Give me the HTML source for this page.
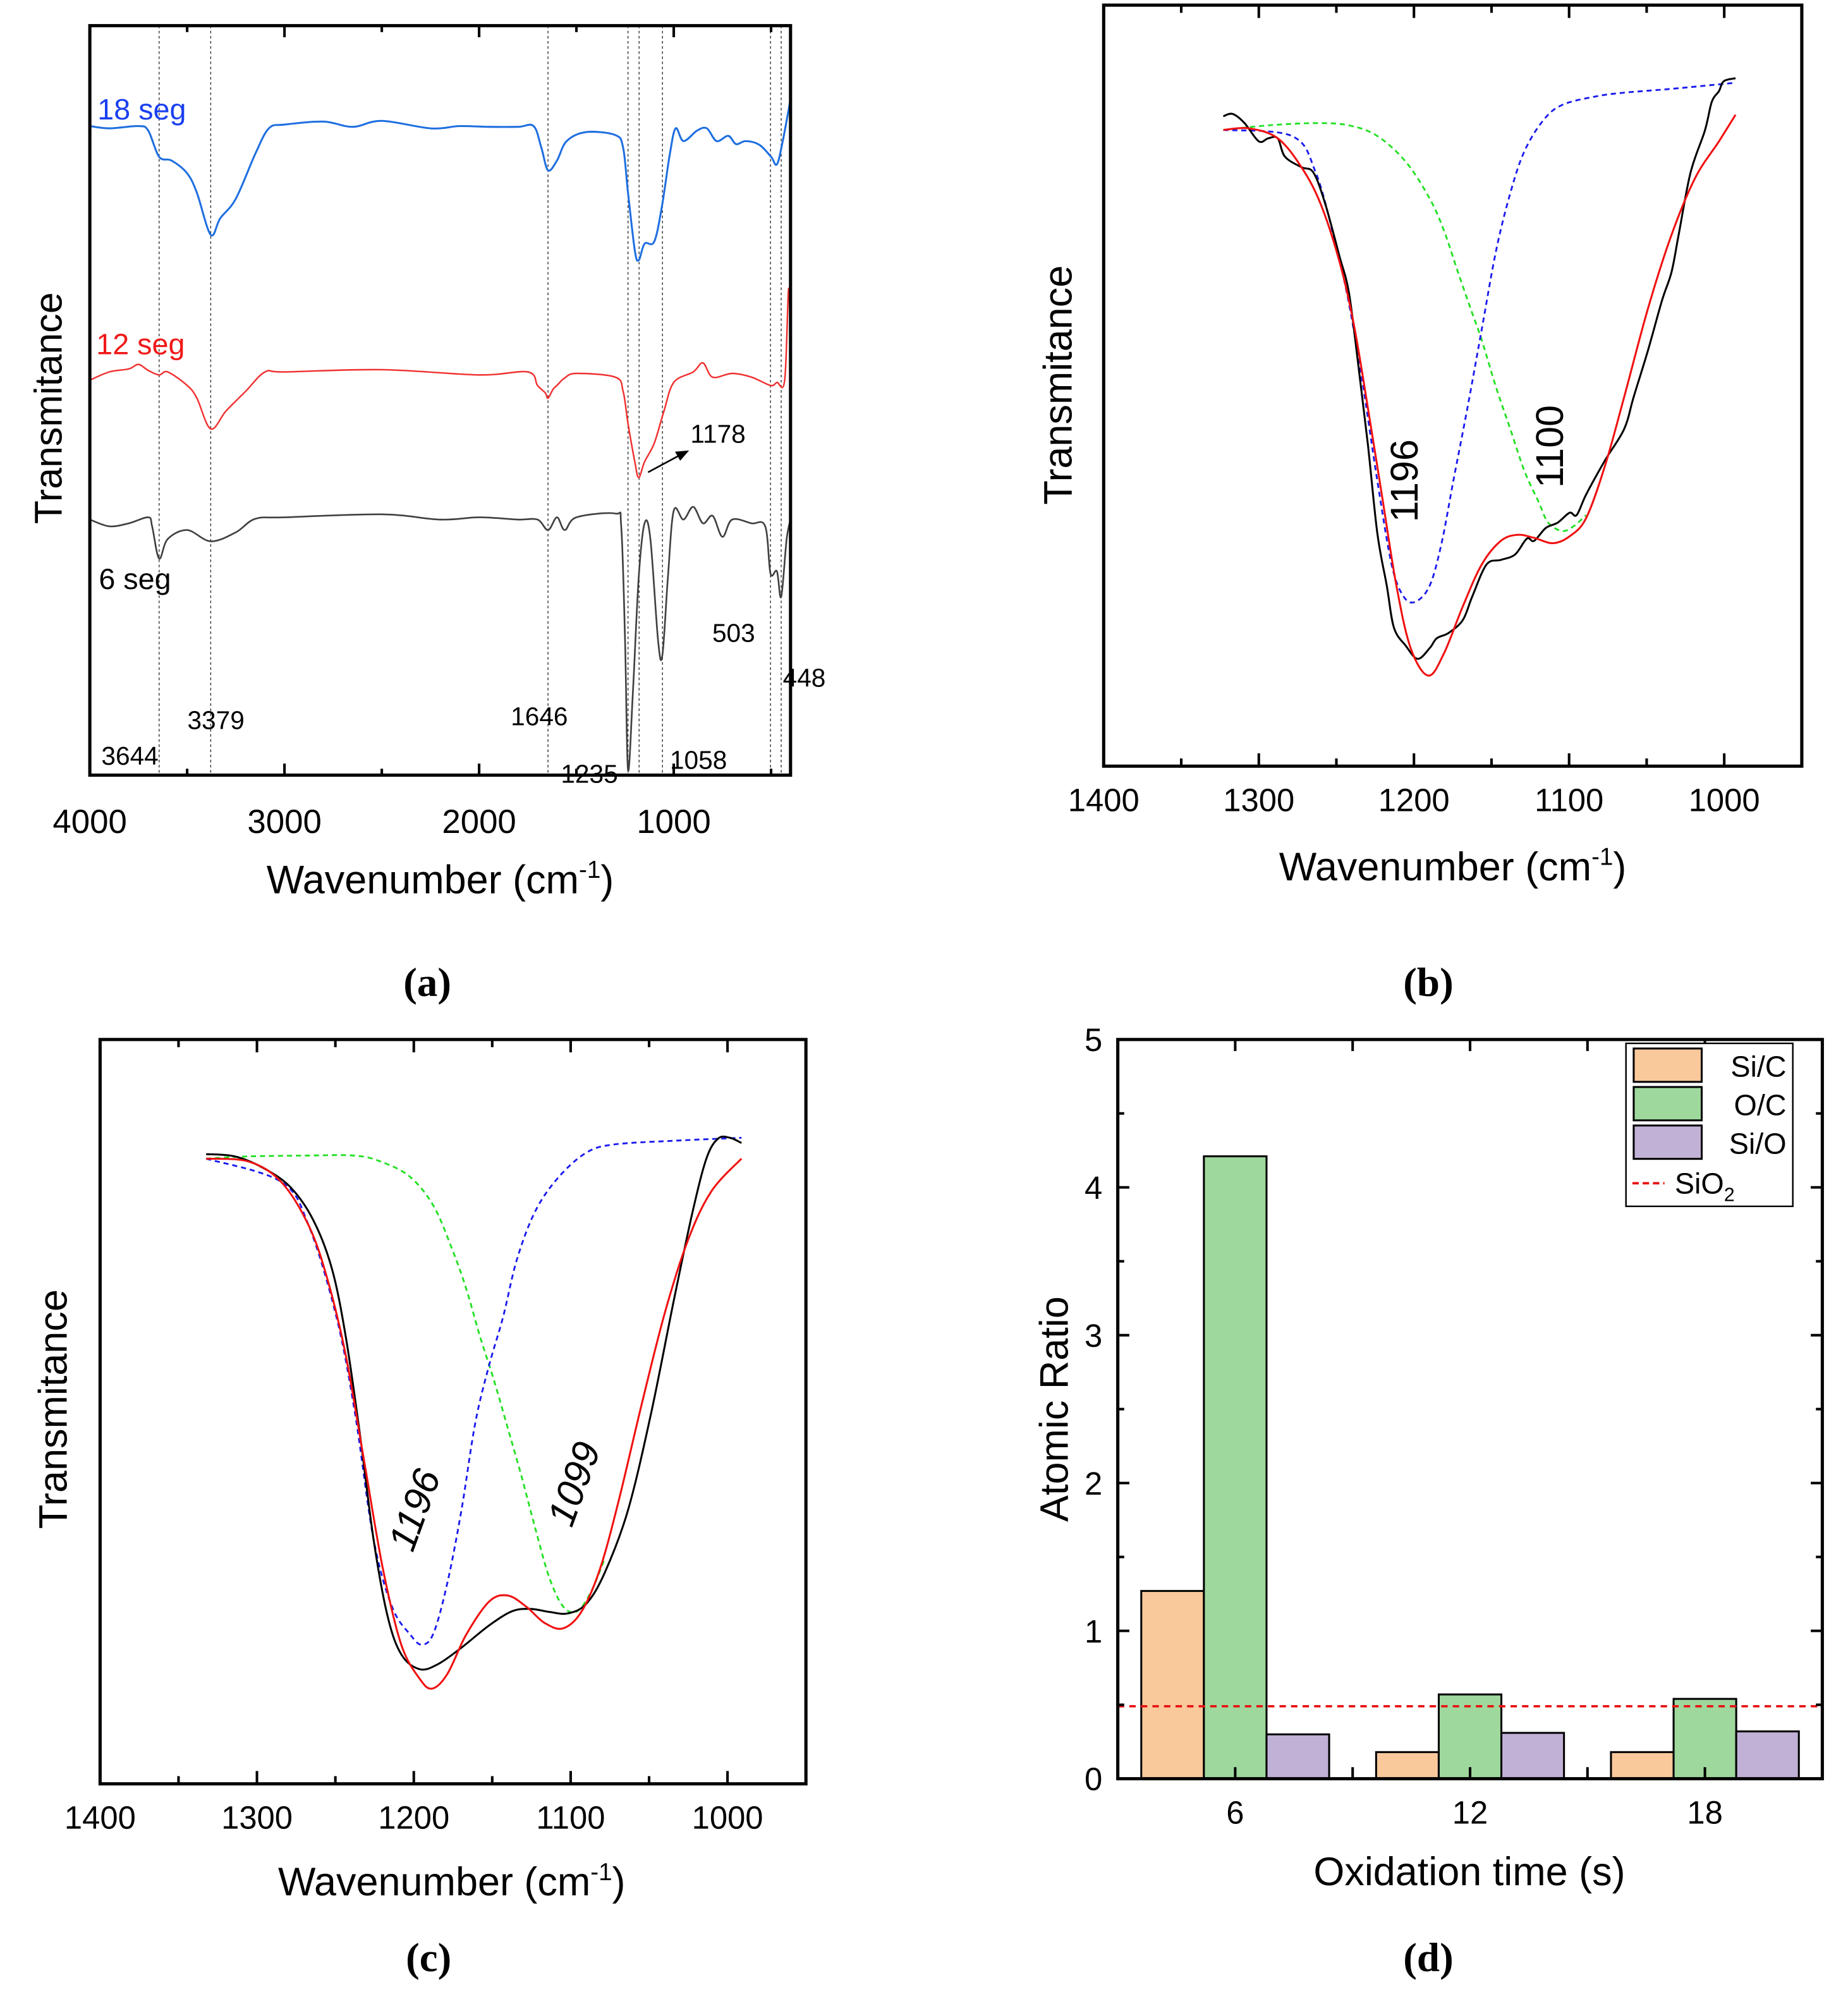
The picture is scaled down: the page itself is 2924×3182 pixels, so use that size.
<!DOCTYPE html>
<html><head><meta charset="utf-8"><title>FTIR and atomic ratio figure</title>
<style>
html,body{margin:0;padding:0;background:#fff;}
svg{display:block;font-family:"Liberation Sans",Arial,sans-serif;}
.cap{font-family:"Liberation Serif",serif;font-weight:bold;}
</style></head>
<body>
<svg id="fig" xmlns="http://www.w3.org/2000/svg" width="2924" height="3182" viewBox="0 0 1440 1567" preserveAspectRatio="none">
<rect x="0" y="0" width="1440" height="1567" fill="#fff"/>
<g id="pa"></g>
<g id="pb"></g>
<g id="pc"></g>
<g id="pd"></g>
</svg>
<script>
// ---------- Panel (a) data: wavenumber / relative transmittance (0-100) ----------
const aBlueWn = [4000,3900,3750,3700,3644,3580,3500,3450,3379,3330,3250,3150,3080,3000,2800,2650,2500,2250,2100,1950,1800,1720,1680,1646,1600,1550,1450,1300,1260,1235,1200,1180,1150,1100,1060,1020,990,950,880,830,780,720,680,630,560,500,470,440,400];
const aBlueV  = [86.6,86.3,86.6,86,82.5,82,80.3,77.7,72.1,74.3,76.9,82.9,86.3,86.8,87.2,86.5,87.3,86.3,86.6,86.5,86.5,86.6,83.7,80.7,82,84.6,85.8,85.4,83.7,77.7,70,68.7,70.9,71.2,76,82.9,86.3,84.6,86,86.3,84.6,85.3,84.2,84.6,84.1,82.5,81.5,84.6,90.2];
const aRedWn = [4000,3900,3800,3750,3700,3644,3600,3500,3450,3379,3300,3200,3100,3000,2500,2000,1750,1700,1660,1646,1620,1600,1560,1500,1300,1260,1235,1200,1180,1150,1100,1050,1000,900,850,800,700,600,503,470,430,410,400];
const aRedV  = [52.7,53.8,54.2,54.8,54,53.4,53.8,52,50.3,46.2,48.6,51.2,53.8,53.8,54.1,53.4,53.8,52,51,50.3,51.5,52,53,53.6,53.1,51.2,46.9,41.8,39.7,41.8,44.3,48.6,52.4,53.8,55,53.1,53.6,53.1,52,52.4,52.7,64.9,57.2];
const aBlackWn = [4000,3900,3800,3700,3680,3644,3600,3500,3379,3250,3150,3000,2500,2200,2000,1800,1700,1646,1600,1560,1500,1300,1270,1250,1235,1210,1180,1150,1120,1080,1058,1030,1000,950,900,850,800,750,700,600,530,503,470,448,420,400];
const aBlackV  = [34.1,33.2,33.6,34.4,33.2,28.9,31.5,32.7,31.2,32.4,34.2,34.4,34.8,34.1,34.4,34.1,34.1,32.7,34.4,32.7,34.4,34.9,33.2,17.8,0.7,11,26.4,33.6,31.5,17.8,16.1,26.4,35.3,34.1,35.8,33.6,34.6,31.8,34.1,33.6,33.2,26.9,27.2,23.8,31.5,34.1];
const aGuides = [3644,3379,1646,1235,1178,1058,503,448];
const aTicks = [4000,3000,2000,1000];

// ---------- Panel (b) data ----------
const bBlackWn = [1322.9,1316.8,1309.2,1300,1293.9,1287.8,1283.2,1272.5,1264.8,1257.2,1248,1241.9,1235.8,1229.7,1223.6,1217.5,1212.9,1205.2,1197.6,1189.9,1185.3,1177.7,1168.5,1162.4,1153.2,1144,1134.9,1127.2,1122.6,1115,1107.3,1099.7,1095.1,1089,1076.8,1064.5,1058.4,1049.2,1040.1,1034,1029.4,1021.7,1012.5,1008,1003.4,1000.3,992.7];
const bBlackV  = [85.4,85.7,84.5,82.1,82.5,82.5,80.1,78.7,78,73.9,67,62.2,52.6,42.3,30.6,23.7,18.2,15.8,14.1,15.5,16.8,17.5,19.2,22.3,26.5,27.1,27.8,29.9,29.6,31.3,32,33.3,33,35.7,40.2,44.3,48.5,54.6,61.2,64.9,69.8,78,83.5,87.3,88.7,90,90.4];
const bRedWn = [1322.9,1306.1,1287.8,1272.5,1260.2,1248,1238.8,1229.7,1220.5,1211.3,1202.1,1190.8,1180.7,1168.5,1156.3,1144,1133.3,1122.6,1110.4,1099.7,1089,1076.8,1064.5,1049.2,1034,1018.7,1003.4,992.7];
const bRedV  = [83.6,83.8,82.5,78.7,73.9,66.3,58.1,47.1,35.4,23.7,15.5,11.9,14.8,21,26.5,29.6,30.4,30,29.3,30.2,32.6,39.5,48.5,60.1,69.8,77.3,82.1,85.6];
const bBlueWn = [1322.9,1278.6,1263.3,1251.1,1241.9,1232.7,1223.6,1214.4,1206.7,1199.1,1189.9,1182.3,1174.6,1165.5,1156.3,1147.1,1137.9,1128.8,1116.5,1104.3,1082.9,1064.5,1034,992.7];
const bBlueV  = [83.6,82.8,78,69.1,60.8,49.8,37.5,26.5,22.3,21.6,23.7,29.2,37.5,47.1,57.4,67.7,75.3,80.8,84.9,86.9,88,88.5,89,89.8];
const bGreenWn = [1322.9,1293.9,1263.3,1241.9,1223.6,1205.2,1189.9,1180.7,1171.6,1162.4,1156.3,1147.1,1137.9,1128.8,1119.6,1113.5,1104.3,1096.6,1089];
const bGreenV  = [83.6,84.2,84.5,84.2,82.8,79.4,74.6,70.4,64.9,59.5,56,49.8,44.3,38.8,34.7,32,30.9,31.6,33];
const bPeakLabels = ["1196","1100"];
const bPeakWn = [1197.6,1104];
const bPeakV = [37.5,42];

// ---------- Panel (c) data ----------
const cBlackWn = [1332.4,1314.2,1296.5,1278.8,1264,1252.2,1243.4,1234.5,1225.7,1216.8,1208,1196.2,1184.4,1169.6,1151.9,1137.2,1125.4,1113.6,1101.8,1090,1078.2,1063.4,1048.7,1033.9,1022.1,1013.3,1005.9,998.5,991.1];
const cBlackV  = [84.6,84.3,82.8,80.2,75.7,69.2,60.1,47.2,32.9,22.6,17.4,15.4,16.1,18.3,21.3,23.2,23.5,23.1,22.9,24.2,28.4,36.8,49.8,65.3,77,84.1,86.7,86.8,86.1];
const cRedWn = [1332.4,1305.3,1284.7,1267,1255.2,1243.4,1231.6,1219.8,1208,1196.2,1188.2,1178.5,1166.7,1151.9,1140.1,1128.3,1116.5,1104.7,1092.9,1081.1,1069.3,1054.6,1039.8,1025.1,1010.3,991.1];
const cRedV  = [84,83.6,80.9,75,67.9,57.6,43.3,29,18.7,14.1,12.8,14.8,20,24.5,25.3,23.8,21.6,20.9,23.2,29,38.1,51.1,63.4,73.1,79.6,84];
const cBlueWn = [1332.4,1284.7,1267,1249.3,1237.5,1225.7,1213.9,1202.1,1194.7,1187.3,1178.5,1169.6,1160.8,1151.9,1143.1,1134.2,1122.4,1107.7,1090,1072.3,1033.9,991.1];
const cBlueV  = [84,80.9,75,62.7,49.8,32.9,23.8,20,18.7,20.3,27.1,36.8,48.5,56.3,62.7,70.5,77,81.5,84.8,85.9,86.4,86.8];
const cGreenWn = [1332.4,1305.3,1269.9,1237.5,1219.8,1202.1,1187.3,1175.5,1166.7,1157.8,1149,1140.1,1131.3,1122.4,1113.6,1104.7,1095.9,1087,1078.2];
const cGreenV  = [84,84.3,84.4,84.4,83.5,81.5,77.6,71.8,66.6,60.1,54.3,47.8,41.3,34.2,27.7,23.8,23.2,25.8,30.3];
const cPeakLabels = ["1196","1099"];
const cPeakWn = [1191.7,1090];
const cPeakV = [36.2,39.7];
const bcTicks = [1400,1300,1200,1100,1000];

// ---------- Panel (d) data ----------
const dCategories = [6,12,18];
const dSiC = [1.27,0.18,0.18];
const dOC  = [4.21,0.57,0.54];
const dSiO = [0.30,0.31,0.32];
const dSiO2 = 0.49;
const dYTicks = [0,1,2,3,4,5];
const dSeriesNames = ["Si/C","O/C","Si/O"];

// ---------- helpers ----------
const NS = 'http://www.w3.org/2000/svg';
function mk(tag, attrs, parent, text){
  const e = document.createElementNS(NS, tag);
  for (const k in attrs) e.setAttribute(k, attrs[k]);
  if (text !== undefined) e.textContent = text;
  parent.appendChild(e);
  return e;
}
function lin(d0,d1,p0,p1){ return v => p0 + (v-d0)*(p1-p0)/(d1-d0); }
function smoothPath(pts){
  let d = 'M'+pts[0][0].toFixed(2)+','+pts[0][1].toFixed(2);
  for (let i=0;i<pts.length-1;i++){
    const p0 = pts[i-1]||pts[i], p1=pts[i], p2=pts[i+1], p3=pts[i+2]||p2;
    const c1x=p1[0]+(p2[0]-p0[0])/6, c1y=p1[1]+(p2[1]-p0[1])/6;
    const c2x=p2[0]-(p3[0]-p1[0])/6, c2y=p2[1]-(p3[1]-p1[1])/6;
    d += ' C'+c1x.toFixed(2)+','+c1y.toFixed(2)+' '+c2x.toFixed(2)+','+c2y.toFixed(2)+' '+p2[0].toFixed(2)+','+p2[1].toFixed(2);
  }
  return d;
}
function drawCurve(g, xs, ys, sx, sy, color, w, dash, name){
  const pts = xs.map((x,i)=>[sx(x), sy(ys[i])]);
  const p = mk('path', {d:smoothPath(pts), fill:'none', stroke:color, 'stroke-width':w, 'stroke-linejoin':'round'}, g);
  if (dash) p.setAttribute('stroke-dasharray', dash);
  
  
  return p;
}

// ---------- Panel (a) ----------
(function(){
  const g = document.getElementById('pa');
  const L=70,R=616,T=20,B=604;
  const sx = lin(4000,400,L,R), sy = lin(0,100,B,T);
  aGuides.forEach(w=>{
    const l = mk('line',{x1:sx(w),x2:sx(w),y1:T,y2:B,stroke:'#333','stroke-width':0.7,'stroke-dasharray':'2,2'},g);
    
    
  });
  drawCurve(g,aBlueWn,aBlueV,sx,sy,'#1f6fe0',1.5,null,'series-18-seg');
  drawCurve(g,aRedWn,aRedV,sx,sy,'#f03030',1.2,null,'series-12-seg');
  drawCurve(g,aBlackWn,aBlackV,sx,sy,'#404040',1.3,null,'series-6-seg');
  for (let w=4000; w>=500; w-=500){
    const len = (w%1000===0)?9:5;
    const t1 = mk('line',{x1:sx(w),x2:sx(w),y1:B,y2:B-len,stroke:'#000','stroke-width':2},g);
    
    
    const t2 = mk('line',{x1:sx(w),x2:sx(w),y1:T,y2:T+len,stroke:'#000','stroke-width':2},g);
    
    
  }
  const fr = mk('rect',{x:L,y:T,width:R-L,height:B-T,fill:'none',stroke:'#000','stroke-width':2.5},g);
  
  
  aTicks.forEach(w=>{
    const t = mk('text',{x:sx(w),y:B+45,'font-size':26,'text-anchor':'middle'},g,String(w));
    
    
  });
  let t;
  t = mk('text',{x:343,y:696,'font-size':31,'text-anchor':'middle'},g);
  
  
  t.innerHTML = 'Wavenumber (cm<tspan dy="-12" font-size="19">-1</tspan><tspan dy="12">)</tspan>';
  t = mk('text',{x:0,y:0,'font-size':30,'text-anchor':'middle',transform:'translate(48,318) rotate(-90)'},g,'Transmitance');
  
  
  const labs = [['18 seg',76,93,'#1a3ff0','label-18-seg'],['12 seg',75,276,'#f01818','label-12-seg'],['6 seg',77,459,'#000','label-6-seg']];
  labs.forEach(a=>{
    const e = mk('text',{x:a[1],y:a[2],'font-size':23,fill:a[3]},g,a[0]);
    
    
  });
  const ann = [['3644',79,596],['3379',146,568],['1646',398,565],['1235',437,610],['1058',522,599],['503',555,500],['448',610,535],['1178',538,345]];
  ann.forEach(a=>{
    const e = mk('text',{x:a[1],y:a[2],'font-size':20,fill:'#000'},g,a[0]);
    
    
  });
  const ar = mk('line',{x1:505,y1:368,x2:531,y2:354,stroke:'#000','stroke-width':1.3},g);
  
  
  const ah = mk('polygon',{points:'537,351 526,352 530,359',fill:'#000'},g);
  
  
  t = mk('text',{x:333,y:776,'font-size':32,'text-anchor':'middle','class':'cap'},g,'(a)');
  
  
})();

// ---------- Panels (b) and (c) ----------
function fitPanel(id, L,R,T,B, data, labels, caption, capPos, xTitlePos, yTitlePos, rot, labelSize){
  const g = document.getElementById(id);
  const sx = lin(1400,950,L,R), sy = lin(0,100,B,T);
  drawCurve(g,data.greenWn,data.greenV,sx,sy,'#22e022',1.4,'4,3','fit-component-1100');
  drawCurve(g,data.blueWn,data.blueV,sx,sy,'#1a1af0',1.4,'4,3','fit-component-1196');
  drawCurve(g,data.blackWn,data.blackV,sx,sy,'#000',1.5,null,'measured-spectrum');
  drawCurve(g,data.redWn,data.redV,sx,sy,'#f01010',1.5,null,'fit-envelope');
  for (let w=1400; w>=950; w-=50){
    const len = (w%100===0)?10:6;
    const t1 = mk('line',{x1:sx(w),x2:sx(w),y1:B,y2:B-len,stroke:'#000','stroke-width':2},g);
    
    
    const t2 = mk('line',{x1:sx(w),x2:sx(w),y1:T,y2:T+len,stroke:'#000','stroke-width':2},g);
    
    
  }
  const fr = mk('rect',{x:L,y:T,width:R-L,height:B-T,fill:'none',stroke:'#000','stroke-width':2.5},g);
  
  
  bcTicks.forEach(w=>{
    const t = mk('text',{x:sx(w),y:B+35,'font-size':25,'text-anchor':'middle'},g,String(w));
    
    
  });
  labels.text.forEach((s,i)=>{
    const x = sx(labels.wn[i]), y = sy(labels.v[i]);
    const t = mk('text',{x:0,y:0,'font-size':labelSize,'text-anchor':'middle',transform:'translate('+x+','+y+') rotate('+rot+')'},g,s);
    if (rot !== -90) t.setAttribute('font-style','italic');
    
    
  });
  let t = mk('text',{x:xTitlePos[0],y:xTitlePos[1],'font-size':31,'text-anchor':'middle'},g);
  
  
  t.innerHTML = 'Wavenumber (cm<tspan dy="-12" font-size="19">-1</tspan><tspan dy="12">)</tspan>';
  t = mk('text',{x:0,y:0,'font-size':31,'text-anchor':'middle',transform:'translate('+yTitlePos[0]+','+yTitlePos[1]+') rotate(-90)'},g,'Transmitance');
  
  
  t = mk('text',{x:capPos[0],y:capPos[1],'font-size':32,'text-anchor':'middle','class':'cap'},g,caption);
  
  
}
fitPanel('pb',860,1404,4,597,
  {blackWn:bBlackWn,blackV:bBlackV,redWn:bRedWn,redV:bRedV,blueWn:bBlueWn,blueV:bBlueV,greenWn:bGreenWn,greenV:bGreenV},
  {text:bPeakLabels,wn:bPeakWn,v:bPeakV},'(b)',[1113,776],[1132,686],[835,300],-90,30);
fitPanel('pc',78,628,810,1390,
  {blackWn:cBlackWn,blackV:cBlackV,redWn:cRedWn,redV:cRedV,blueWn:cBlueWn,blueV:cBlueV,greenWn:cGreenWn,greenV:cGreenV},
  {text:cPeakLabels,wn:cPeakWn,v:cPeakV},'(c)',[334,1536],[352,1477],[52,1098],-70,30);

// ---------- Panel (d) ----------
(function(){
  const g = document.getElementById('pd');
  const L=871,R=1420,T=810,B=1386;
  const sx = lin(3,21,L,R), sy = lin(0,5,B,T);
  const bw = 1.6;
  const series = [dSiC,dOC,dSiO];
  const colors = ['#f9c89b','#9fd89d','#c2b1d6'];
  const keys = ['sic','oc','sio'];
  dCategories.forEach((c,ci)=>{
    series.forEach((s,si)=>{
      const x0 = c + (si-1.5)*bw;
      const r = mk('rect',{x:sx(x0),y:sy(s[ci]),width:sx(x0+bw)-sx(x0),height:sy(0)-sy(s[ci]),fill:colors[si],stroke:'#000','stroke-width':1.5},g);
      
      
    });
  });
  const ref = mk('line',{x1:L,x2:R,y1:sy(dSiO2),y2:sy(dSiO2),stroke:'#e81010','stroke-width':1.8,'stroke-dasharray':'5,4'},g);
  
  
  for (let v=0; v<=5; v+=0.5){
    const len = (v%1===0)?9:5;
    const t1 = mk('line',{x1:L,x2:L+len,y1:sy(v),y2:sy(v),stroke:'#000','stroke-width':2},g);
    
    
    const t2 = mk('line',{x1:R,x2:R-len,y1:sy(v),y2:sy(v),stroke:'#000','stroke-width':2},g);
    
    
  }
  for (let x=3; x<=21; x+=3){
    const t1 = mk('line',{x1:sx(x),x2:sx(x),y1:B,y2:B-9,stroke:'#000','stroke-width':2},g);
    
    
    const t2 = mk('line',{x1:sx(x),x2:sx(x),y1:T,y2:T+9,stroke:'#000','stroke-width':2},g);
    
    
  }
  const fr = mk('rect',{x:L,y:T,width:R-L,height:B-T,fill:'none',stroke:'#000','stroke-width':2.5},g);
  
  
  dYTicks.forEach(v=>{
    const t = mk('text',{x:L-12,y:sy(v)+9,'font-size':25,'text-anchor':'end'},g,String(v));
    
    
  });
  dCategories.forEach(c=>{
    const t = mk('text',{x:sx(c),y:B+35,'font-size':25,'text-anchor':'middle'},g,String(c));
    
    
  });
  let t = mk('text',{x:1145,y:1469,'font-size':31,'text-anchor':'middle'},g,'Oxidation time (s)');
  
  
  t = mk('text',{x:0,y:0,'font-size':31,'text-anchor':'middle',transform:'translate(832,1098) rotate(-90)'},g,'Atomic Ratio');
  
  
  // legend
  const lg = mk('g',{},g);
  
  
  const lb = mk('rect',{x:1267,y:813,width:130,height:127,fill:'#fff',stroke:'#000','stroke-width':1.2},lg);
  
  
  dSeriesNames.forEach((n,i)=>{
    const y = 817 + i*30;
    const sw = mk('rect',{x:1273,y:y,width:53,height:26,fill:colors[i],stroke:'#000','stroke-width':1.5},lg);
    
    
    const tx = mk('text',{x:1392,y:y+22,'font-size':23,'text-anchor':'end'},lg,n);
    
    
  });
  const ll = mk('line',{x1:1272,x2:1297,y1:922,y2:922,stroke:'#e81010','stroke-width':1.8,'stroke-dasharray':'5,3'},lg);
  
  
  const lt = mk('text',{x:1305,y:930,'font-size':23},lg);
  
  
  lt.innerHTML = 'SiO<tspan dy="6" font-size="15">2</tspan>';
  t = mk('text',{x:1113,y:1536,'font-size':32,'text-anchor':'middle','class':'cap'},g,'(d)');
  
  
})();
</script>
</body></html>
